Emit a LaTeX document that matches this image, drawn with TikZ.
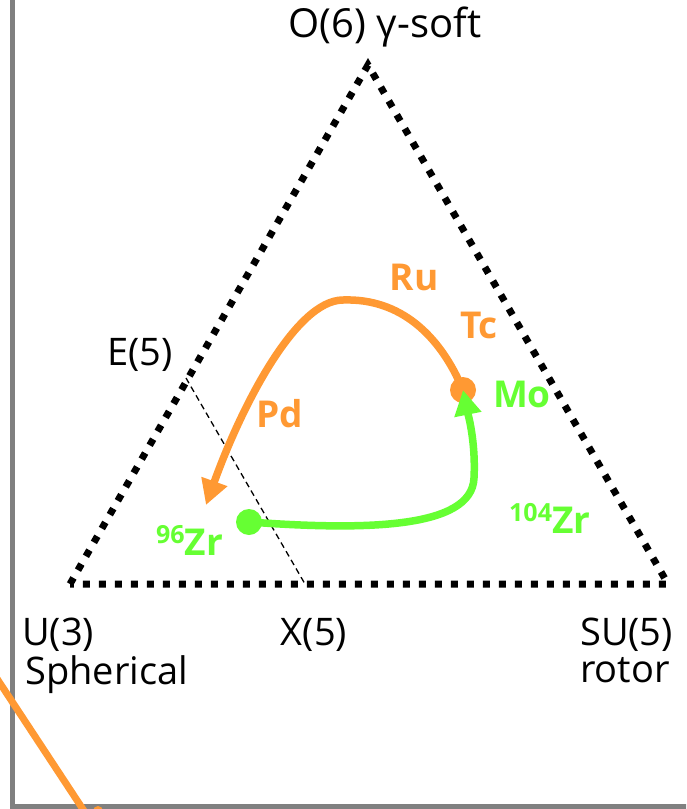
\documentclass[tikz,border=0pt]{standalone}
\usepackage{fontspec}
\setmainfont{Open Sans}
\usetikzlibrary{arrows.meta}
\definecolor{orng}{RGB}{255,153,51}
\definecolor{grn}{RGB}{102,255,51}
\definecolor{framegrey}{RGB}{128,128,128}
\begin{document}
\begin{tikzpicture}[x=1pt,y=-1pt,
  lbl/.style={inner sep=0pt, font=\fontsize{38}{44}\selectfont},
  elo/.style={inner sep=0pt, font=\fontsize{37}{42}\selectfont\bfseries, text=orng},
  elg/.style={inner sep=0pt, font=\fontsize{37}{42}\selectfont\bfseries, text=grn},
  tri/.style={line width=7pt, dash pattern=on 7pt off 9pt},
  thin dash/.style={line width=1.3pt, dash pattern=on 6pt off 4pt},
  dotnode/.style={circle, inner sep=0pt, minimum size=26pt},
  flow/.style={line width=7.5pt, -{Triangle[length=25pt,width=26pt]}}]
\useasboundingbox (0,0) rectangle (686,809);
\fill[white] (0,0) rectangle (686,809);
\begin{scope}
\clip (0,0) rectangle (686,809);
% frame
\draw[framegrey, line width=4.5pt] (12.5,-5) -- (12.5,806.5) -- (700,806.5);
% stray orange line
\draw[orng, line width=7pt] (-10,668) -- (90,820);
\fill[orng] (98,811) circle (5);
% triangle
\coordinate (top) at (368,65);
\coordinate (bl) at (70,584);
\coordinate (br) at (668,584);
\draw[tri] (bl) -- (top) -- (br) -- cycle;
% E(5)-X(5) line
\coordinate (e5) at (186,378);
\coordinate (x5) at (305,584);
\draw[thin dash] (e5) -- (x5);
% labels
\node[lbl, anchor=base, font=\fontsize{40}{44}\selectfont] (o6) at (385,37) {O(6) γ-soft};
\node[lbl, anchor=base] (e5l) at (140,365) {E(5)};
\node[lbl, anchor=base west] (u3) at (22,645) {U(3)};
\node[lbl, anchor=base west] (sph) at (25,684) {Spherical};
\node[lbl, anchor=base] (x5l) at (314,645) {X(5)};
\node[lbl, anchor=base west] (su5) at (580,645) {SU(5)};
\node[lbl, anchor=base west] (rot) at (580,682) {rotor};
% element labels
\node[elo, anchor=base] (ru) at (414,290) {Ru};
\node[elo, anchor=base] (tc) at (479,338) {Tc};
\node[elo, anchor=base] (pd) at (280,427) {Pd};
\node[elg, anchor=base] (molbl) at (522,407) {Mo};
\node[elg, anchor=base west] (zr96) at (156,555) {\raisebox{0.3em}{\fontsize{25}{28}\selectfont 96}Zr};
\node[elg, anchor=base west] (zr104) at (509,533) {\raisebox{0.3em}{\fontsize{25}{28}\selectfont 104}Zr};
% dots and flows
\node[dotnode, fill=orng] (mo) at (463,390) {};
\node[dotnode, fill=grn] (zd) at (249,522) {};
\coordinate (pdtip) at (206,505);
\draw[flow, orng] (mo.center) .. controls (440,335) and (400,298) .. (343,300)
   .. controls (295,300) and (240,410) .. (pdtip);
\draw[flow, grn] (zd.center) .. controls (360,530) and (472,530) .. (474,478)
   .. controls (476,440) and (467,410) .. (mo.center);
\end{scope}
\end{tikzpicture}
\end{document}
